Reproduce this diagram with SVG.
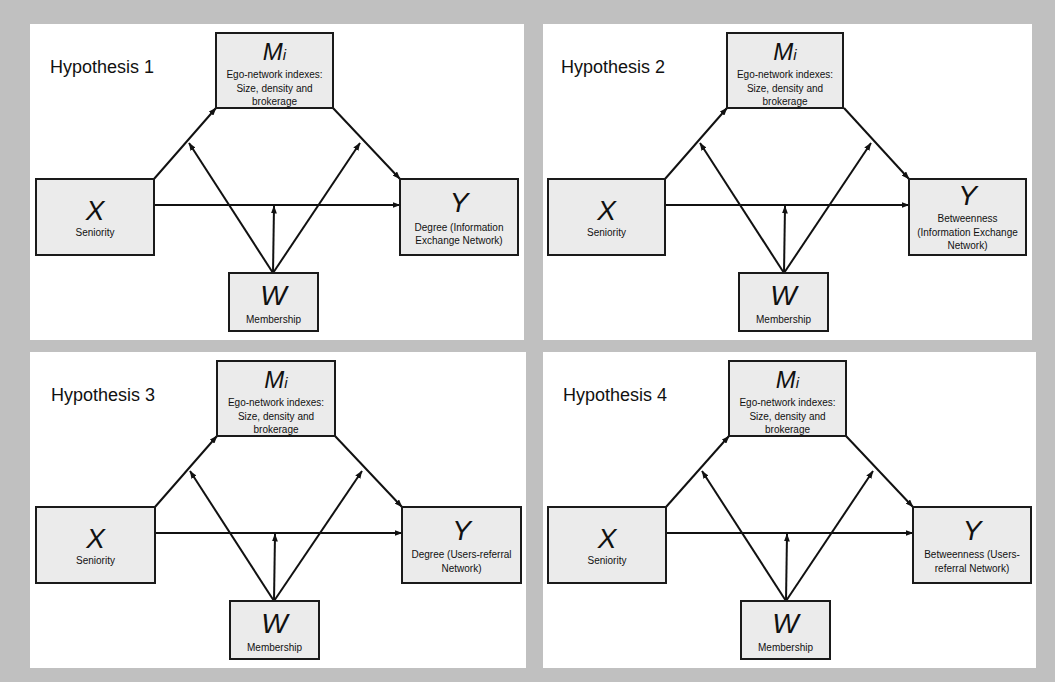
<svg xmlns="http://www.w3.org/2000/svg" width="1055" height="682" viewBox="0 0 1055 682">
<style>
.bg{fill:#c0c0c0}
.panel{fill:#ffffff}
.box{fill:#ebebeb;stroke:#1a1a1a;stroke-width:2}
.t{font-family:"Liberation Sans",Arial,sans-serif;fill:#111}
.hyp{font-size:18px}
.big{font-size:28px;font-style:italic;text-anchor:middle}
.mbig{font-size:24px;font-style:italic;text-anchor:middle}
.sm{font-size:10px;text-anchor:middle}
.edge{stroke:#111;stroke-width:2;fill:none;marker-end:url(#ah)}
</style>
<defs>
<marker id="ah" markerUnits="userSpaceOnUse" markerWidth="8" markerHeight="6" refX="7.5" refY="3" orient="auto">
<path d="M0,0 L8,3 L0,6 z" fill="#111"/>
</marker>
</defs>
<rect class="bg" x="0" y="0" width="1055" height="682"/>
<rect class="panel" x="30" y="24" width="494" height="316"/>
<rect class="panel" x="543" y="24" width="489" height="316"/>
<rect class="panel" x="30" y="352" width="496" height="316"/>
<rect class="panel" x="543" y="352" width="493" height="316"/>

<!-- Panel 1 -->
<g id="panel1">
<text class="t hyp" x="50" y="73">Hypothesis 1</text>
<g id="connectors1">
<line class="edge" x1="154" y1="179" x2="216" y2="108"/>
<line class="edge" x1="333" y1="108" x2="400" y2="179"/>
<line class="edge" x1="154" y1="205" x2="400" y2="205"/>
<line class="edge" x1="273" y1="273" x2="189" y2="143"/>
<line class="edge" x1="273" y1="273" x2="360" y2="143"/>
<line class="edge" x1="273" y1="273" x2="274" y2="206"/>
</g>
<g id="M1"><rect class="box" x="216" y="33" width="117" height="75"/>
<text class="t mbig" x="274.5" y="60">M<tspan font-size="15">i</tspan></text>
<text class="t sm" x="274.5" y="77.5">Ego-network indexes:</text>
<text class="t sm" x="274.5" y="91.5">Size, density and</text>
<text class="t sm" x="274.5" y="104.5">brokerage</text></g>
<g id="X1"><rect class="box" x="36" y="179" width="118" height="76"/>
<text class="t big" x="95" y="220">X</text>
<text class="t sm" x="95" y="236">Seniority</text></g>
<g id="Y1"><rect class="box" x="400" y="179" width="118" height="76"/>
<text class="t big" x="459" y="212">Y</text>
<text class="t sm" x="459" y="231">Degree (Information</text>
<text class="t sm" x="459" y="244">Exchange Network)</text></g>
<g id="W1"><rect class="box" x="229" y="273" width="89" height="58"/>
<text class="t big" x="273.5" y="305">W</text>
<text class="t sm" x="273.5" y="322.5">Membership</text></g>
</g>

<!-- Panel 2 -->
<g id="panel2" transform="translate(511,0)">
<text class="t hyp" x="50" y="73">Hypothesis 2</text>
<g id="connectors2">
<line class="edge" x1="154" y1="179" x2="216" y2="108"/>
<line class="edge" x1="333" y1="108" x2="398" y2="179"/>
<line class="edge" x1="154" y1="205" x2="398" y2="205"/>
<line class="edge" x1="273" y1="273" x2="189" y2="143"/>
<line class="edge" x1="273" y1="273" x2="360" y2="143"/>
<line class="edge" x1="273" y1="273" x2="274" y2="206"/>
</g>
<g id="M2"><rect class="box" x="216" y="33" width="116" height="75"/>
<text class="t mbig" x="274" y="60">M<tspan font-size="15">i</tspan></text>
<text class="t sm" x="274" y="77.5">Ego-network indexes:</text>
<text class="t sm" x="274" y="91.5">Size, density and</text>
<text class="t sm" x="274" y="104.5">brokerage</text></g>
<g id="X2"><rect class="box" x="37" y="179" width="117" height="76"/>
<text class="t big" x="95.5" y="220">X</text>
<text class="t sm" x="95.5" y="236">Seniority</text></g>
<g id="Y2"><rect class="box" x="398" y="179" width="117" height="76"/>
<text class="t big" x="456.5" y="205">Y</text>
<text class="t sm" x="456.5" y="222">Betweenness</text>
<text class="t sm" x="456.5" y="236">(Information Exchange</text>
<text class="t sm" x="456.5" y="249">Network)</text></g>
<g id="W2"><rect class="box" x="228" y="273" width="89" height="58"/>
<text class="t big" x="272.5" y="305">W</text>
<text class="t sm" x="272.5" y="322.5">Membership</text></g>
</g>

<!-- Panel 3 -->
<g id="panel3" transform="translate(1,328)">
<text class="t hyp" x="50" y="73">Hypothesis 3</text>
<g id="connectors3">
<line class="edge" x1="154" y1="179" x2="216" y2="108"/>
<line class="edge" x1="334" y1="108" x2="401" y2="179"/>
<line class="edge" x1="154" y1="205" x2="401" y2="205"/>
<line class="edge" x1="273" y1="273" x2="189" y2="143"/>
<line class="edge" x1="273" y1="273" x2="361" y2="143"/>
<line class="edge" x1="273" y1="273" x2="274" y2="206"/>
</g>
<g id="M3"><rect class="box" x="216" y="33" width="118" height="75"/>
<text class="t mbig" x="275" y="60">M<tspan font-size="15">i</tspan></text>
<text class="t sm" x="275" y="77.5">Ego-network indexes:</text>
<text class="t sm" x="275" y="91.5">Size, density and</text>
<text class="t sm" x="275" y="104.5">brokerage</text></g>
<g id="X3"><rect class="box" x="35" y="179" width="119" height="76"/>
<text class="t big" x="94.5" y="220">X</text>
<text class="t sm" x="94.5" y="236">Seniority</text></g>
<g id="Y3"><rect class="box" x="401" y="179" width="119" height="76"/>
<text class="t big" x="460.5" y="212">Y</text>
<text class="t sm" x="460.5" y="230">Degree (Users-referral</text>
<text class="t sm" x="460.5" y="244">Network)</text></g>
<g id="W3"><rect class="box" x="229" y="273" width="89" height="58"/>
<text class="t big" x="273.5" y="305">W</text>
<text class="t sm" x="273.5" y="322.5">Membership</text></g>
</g>

<!-- Panel 4 -->
<g id="panel4" transform="translate(513,328)">
<text class="t hyp" x="50" y="73">Hypothesis 4</text>
<g id="connectors4">
<line class="edge" x1="153" y1="179" x2="216" y2="108"/>
<line class="edge" x1="333" y1="108" x2="400" y2="179"/>
<line class="edge" x1="153" y1="205" x2="400" y2="205"/>
<line class="edge" x1="273" y1="273" x2="189" y2="143"/>
<line class="edge" x1="273" y1="273" x2="360" y2="143"/>
<line class="edge" x1="273" y1="273" x2="274" y2="206"/>
</g>
<g id="M4"><rect class="box" x="216" y="33" width="117" height="75"/>
<text class="t mbig" x="274.5" y="60">M<tspan font-size="15">i</tspan></text>
<text class="t sm" x="274.5" y="77.5">Ego-network indexes:</text>
<text class="t sm" x="274.5" y="91.5">Size, density and</text>
<text class="t sm" x="274.5" y="104.5">brokerage</text></g>
<g id="X4"><rect class="box" x="35" y="179" width="118" height="76"/>
<text class="t big" x="94" y="220">X</text>
<text class="t sm" x="94" y="236">Seniority</text></g>
<g id="Y4"><rect class="box" x="400" y="179" width="118" height="76"/>
<text class="t big" x="459" y="212">Y</text>
<text class="t sm" x="459" y="230">Betweenness (Users-</text>
<text class="t sm" x="459" y="244">referral Network)</text></g>
<g id="W4"><rect class="box" x="228" y="273" width="89" height="58"/>
<text class="t big" x="272.5" y="305">W</text>
<text class="t sm" x="272.5" y="322.5">Membership</text></g>
</g>
</svg>
